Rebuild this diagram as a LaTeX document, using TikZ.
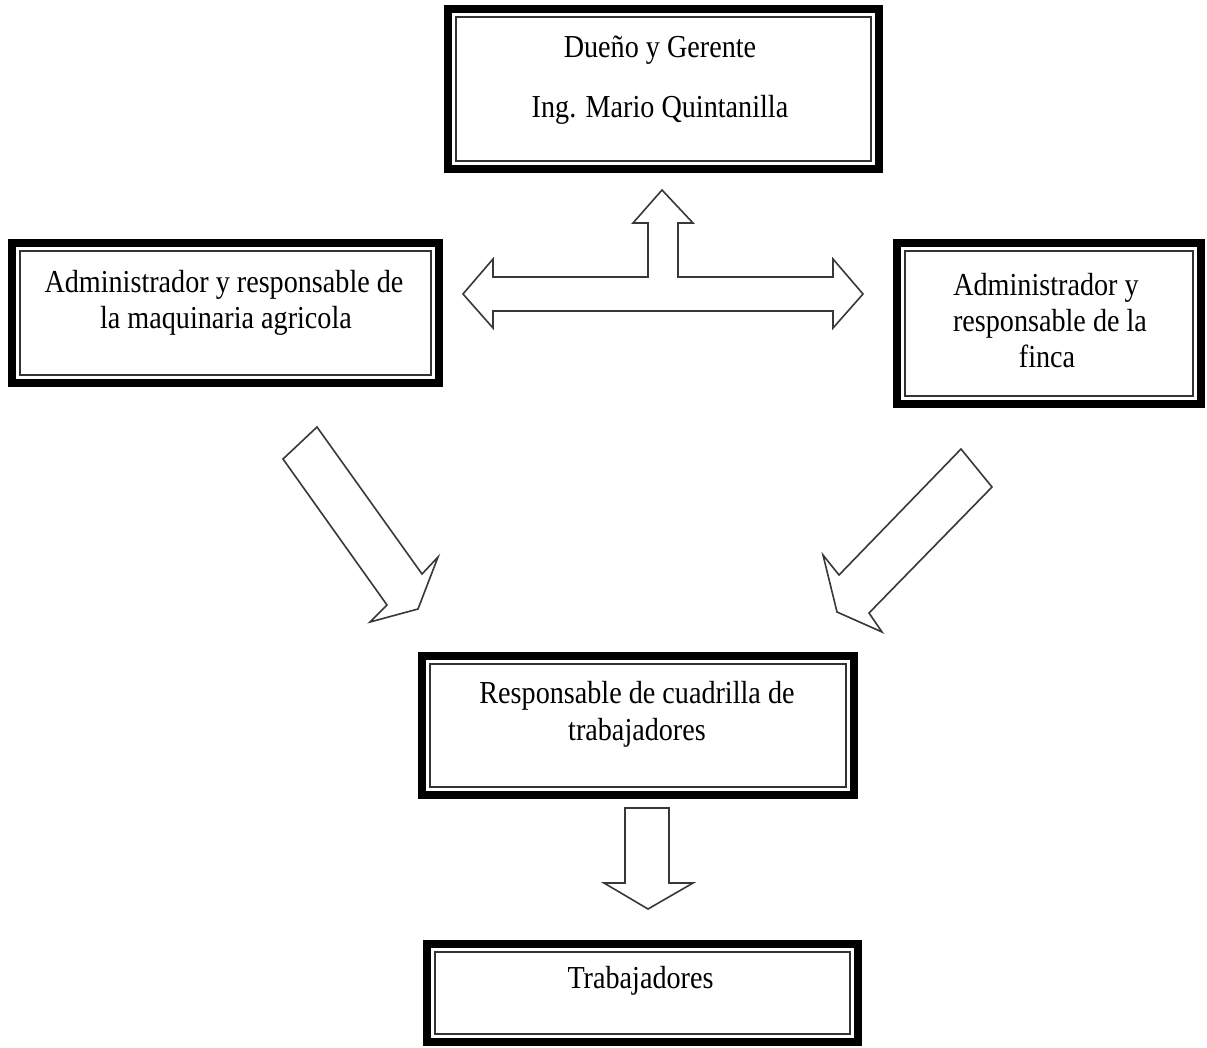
\documentclass[tikz,border=0pt]{standalone}
\usepackage{fontspec}
\setmainfont{Liberation Serif}[FakeStretch=0.88]
\begin{document}
\begin{tikzpicture}[x=1pt,y=1pt,
  inbox/.style={draw=black!80, line width=1.8pt, outer sep=0pt, inner sep=0pt, fill=white},
  frame/.style={draw=black, line width=8pt, line join=miter},
  txt/.style={anchor=base, inner sep=0pt, font=\fontsize{32}{36}\selectfont, text=black},
  blockarrow/.style={draw=black!78, line width=1.6pt, line join=miter, fill=white}]
\useasboundingbox (0,0) rectangle (1207,-1047);
\fill[white] (0,0) rectangle (1207,-1047);

% boxes
\node[inbox, minimum width=415pt, minimum height=144pt] (top) at (663.5,-89) {};
\node[inbox, minimum width=411pt, minimum height=124pt] (left) at (225.5,-313) {};
\node[inbox, minimum width=288pt, minimum height=145pt] (right) at (1049,-323.5) {};
\node[inbox, minimum width=416pt, minimum height=123pt] (mid) at (638,-725.5) {};
\node[inbox, minimum width=415pt, minimum height=82pt] (bot) at (642.5,-993) {};
\foreach \n in {top,left,right,mid,bot}
  \draw[frame] ([shift={(-8pt,8pt)}]\n.north west) rectangle ([shift={(8pt,-8pt)}]\n.south east);

% texts
\node[txt] (t1) at (660,-57) {Dueño y Gerente};
\node[txt] (t2) at (660,-117) {Ing. Mario Quintanilla};
\node[txt] (l1) at (224,-292) {Administrador y responsable de};
\node[txt] (l2) at (226,-328) {la maquinaria agricola};
\node[txt] (r1) at (1046,-295) {Administrador y};
\node[txt] (r2) at (1050,-331) {responsable de la};
\node[txt] (r3) at (1047,-367) {finca};
\node[txt] (m1) at (637,-703) {Responsable de cuadrilla de};
\node[txt] (m2) at (637,-740) {trabajadores};
\node[txt] (b1) at (640.5,-988) {Trabajadores};

% T-shaped arrow (left, up, right)
\draw[blockarrow] (463,-294) -- (493,-259) -- (493,-277) -- (648,-277) -- (648,-223)
  -- (633,-223) -- (662,-190) -- (693,-223) -- (678,-223) -- (678,-277)
  -- (833,-277) -- (833,-259) -- (863,-294) -- (833,-328) -- (833,-311)
  -- (493,-311) -- (493,-328) -- cycle;

% left diagonal arrow
\draw[blockarrow] (283,-459) -- (317,-427) -- (422,-574) -- (438,-557) -- (418,-609)
  -- (370,-622) -- (387,-605) -- cycle;

% right diagonal arrow
\draw[blockarrow] (961,-449) -- (992,-487) -- (869,-613) -- (882,-632) -- (837,-612)
  -- (823,-555) -- (839,-575) -- cycle;

% down arrow
\draw[blockarrow] (625,-808) -- (669,-808) -- (669,-883) -- (693,-883) -- (648,-909)
  -- (604,-883) -- (625,-883) -- cycle;
\end{tikzpicture}
\end{document}
